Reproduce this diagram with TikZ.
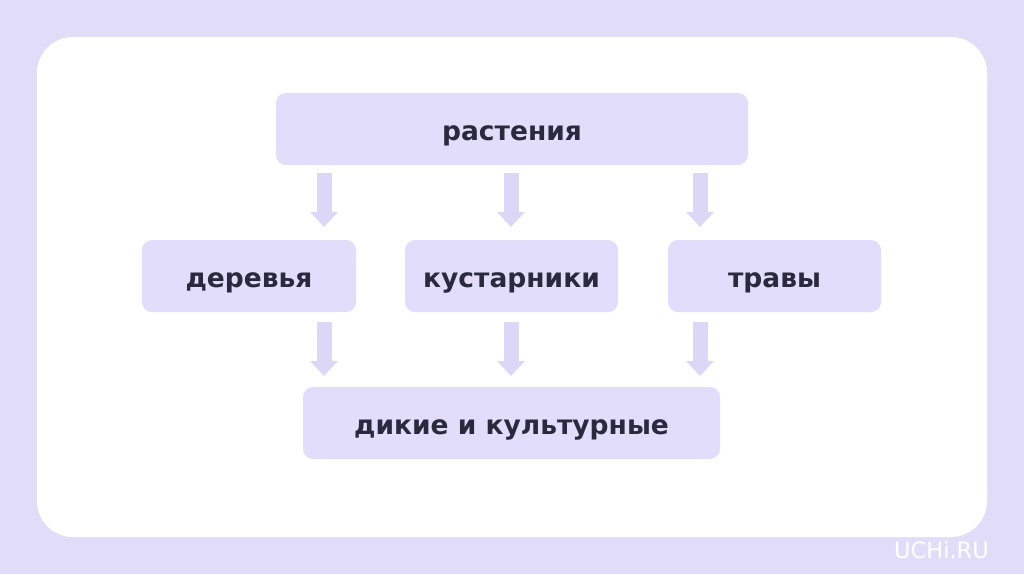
\documentclass[tikz,border=0pt]{standalone}
\usepackage{fontspec}
\setmainfont{DejaVu Sans}
\usetikzlibrary{arrows.meta}
\definecolor{outerbg}{RGB}{225,221,249}
\definecolor{boxfill}{RGB}{225,221,250}
\definecolor{arrowc}{RGB}{220,215,247}
\definecolor{txt}{RGB}{42,41,62}
\tikzset{
  box/.style={fill=boxfill, rounded corners=10pt, inner sep=0pt, text height=22pt, text depth=0pt, font=\fontsize{26.5}{30}\selectfont\bfseries, text=txt},
  flowarrow/.style={draw=arrowc, line width=15pt, -{Triangle[width=27pt,length=15pt]}, arrowc, shorten >=0pt}
}
\begin{document}
\begin{tikzpicture}[x=1pt,y=-1pt]
\useasboundingbox (0,0) rectangle (1024,574);
\fill[outerbg] (0,0) rectangle (1024,574);
\fill[white, rounded corners=36pt] (37,37) rectangle (987,537);
\node[box, minimum width=472pt, minimum height=72pt] (root) at (512,129) {растения};
\node[box, minimum width=214pt, minimum height=72pt] (trees) at (249,276) {деревья};
\node[box, minimum width=213pt, minimum height=72pt] (bush) at (511.5,276) {кустарники};
\node[box, minimum width=213pt, minimum height=72pt] (grass) at (774.5,276) {травы};
\node[box, minimum width=417pt, minimum height=72pt] (wild) at (511.5,423) {дикие и культурные};
\coordinate (a1s) at (324,173); \coordinate (a1e) at (324,227);
\coordinate (a2s) at (511,173); \coordinate (a2e) at (511,227);
\coordinate (a3s) at (700,173); \coordinate (a3e) at (700,227);
\coordinate (b1s) at (324,322); \coordinate (b1e) at (324,376);
\coordinate (b2s) at (511,322); \coordinate (b2e) at (511,376);
\coordinate (b3s) at (700,322); \coordinate (b3e) at (700,376);
\foreach \s/\e in {a1s/a1e,a2s/a2e,a3s/a3e,b1s/b1e,b2s/b2e,b3s/b3e}
  \draw[flowarrow] (\s) -- (\e);
\node[text=white, font=\fontsize{22.5}{26}\selectfont, anchor=center] (logo) at (941.5,550) {UCHi.RU};
\end{tikzpicture}
\end{document}
